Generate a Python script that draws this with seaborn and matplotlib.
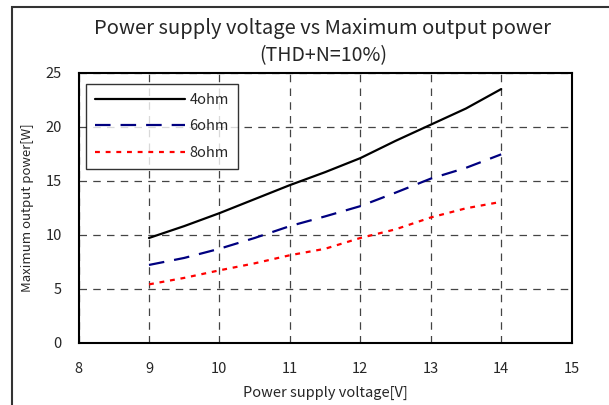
import pandas as pd
import matplotlib.pyplot as plt
import seaborn as sns
from matplotlib.patches import Rectangle

# supply voltage [V] and max output power [W] at THD+N=10%
voltage = [9, 9.5, 10, 10.5, 11, 11.5, 12, 12.5, 13, 13.5, 14]
p_4ohm = [9.7, 10.8, 12.0, 13.3, 14.6, 15.8, 17.1, 18.7, 20.2, 21.7, 23.5]
p_6ohm = [7.2, 7.85, 8.7, 9.7, 10.8, 11.7, 12.65, 13.9, 15.2, 16.2, 17.45]
p_8ohm = [5.4, 6.0, 6.7, 7.35, 8.1, 8.7, 9.7, 10.5, 11.6, 12.45, 13.05]
loads = ["4ohm", "6ohm", "8ohm"]

sns.set_style("white")
plt.rcParams['font.family'] = ['Noto Sans CJK JP', 'DejaVu Sans']

df = pd.DataFrame({
    "V": voltage * 3,
    "P": p_4ohm + p_6ohm + p_8ohm,
    "load": [l for l in loads for _ in voltage],
})

fig = plt.figure(figsize=(6.09, 4.05), dpi=100)
ax = fig.add_axes([0.129, 0.154, 0.8096, 0.666])

colors = {"4ohm": "black", "6ohm": "#000080", "8ohm": "#ff0000"}
dashes = {"4ohm": "", "6ohm": (7, 4.5), "8ohm": (2.2, 2.6)}
sns.lineplot(data=df, x="V", y="P", hue="load", style="load",
             palette=colors, dashes=dashes, linewidth=1.6, ax=ax)

ax.set_xlim(8, 15)
ax.set_ylim(0, 25)
ax.set_xticks(range(8, 16))
ax.set_yticks(range(0, 26, 5))
ax.grid(True, color="#444444", linestyle=(0, (6, 5)), linewidth=0.9)
for s in ax.spines.values():
    s.set_color("black")
    s.set_linewidth(1.5)
ax.tick_params(direction="in", length=4, width=1, labelsize=10.5, pad=14, color="black")
ax.tick_params(axis="y", pad=12)
ax.set_xlabel("Power supply voltage[V]", fontsize=10.5, labelpad=7)
ax.set_ylabel("Maximum output power[W]", fontsize=9.5, labelpad=8)

leg = ax.legend(loc="upper left", bbox_to_anchor=(0.0, 0.985), fontsize=10.5,
                handlelength=6.2, frameon=True, fancybox=False, borderpad=0.6,
                labelspacing=0.85, handletextpad=0.3)
leg.get_frame().set_edgecolor("black")
leg.get_frame().set_linewidth(1)

fig.text(0.53, 0.93, "Power supply voltage vs Maximum output power",
         ha="center", va="center", fontsize=14.5)
fig.text(0.53, 0.862, "(THD+N=10%)", ha="center", va="center", fontsize=14)

# outer chart frame, cropped on the right and bottom
fig.patches.append(Rectangle((12 / 609, -0.1), 1.2, 1.1 - 7 / 405,
                             transform=fig.transFigure, fill=False,
                             edgecolor="#333333", linewidth=1.5))

fig.savefig("out.png", dpi=100)
